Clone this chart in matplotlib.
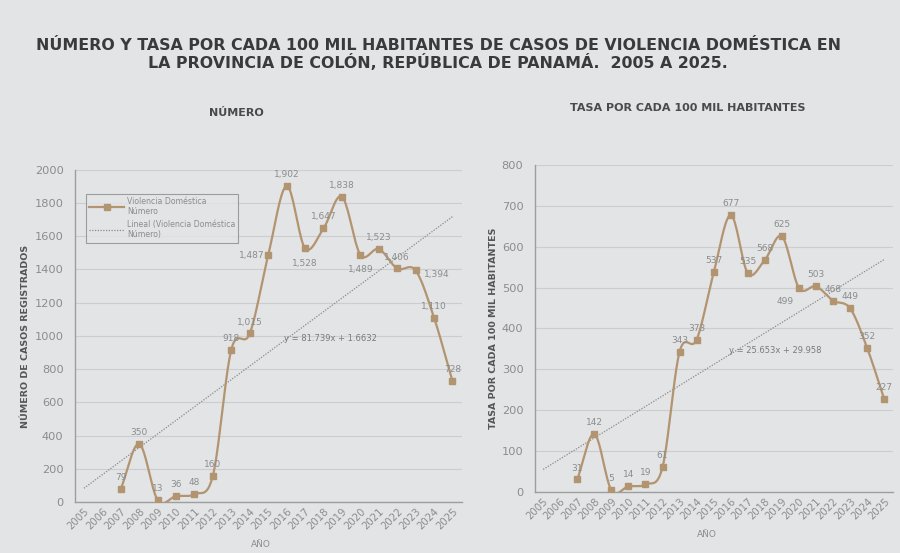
import numpy as np
import matplotlib.pyplot as plt

# data
years = list(range(2005, 2026))
data_years = list(range(2007, 2026))
numero = [79, 350, 13, 36, 48, 160, 918, 1015, 1487, 1902, 1528, 1647, 1838,
          1489, 1523, 1406, 1394, 1110, 728]
tasa = [31, 142, 5, 14, 19, 61, 343, 373, 537, 677, 535, 568, 625,
        499, 503, 468, 449, 352, 227]
trend_num = (81.739, 1.6632)
trend_tasa = (25.653, 29.958)

# label offsets (points) - default is just above the marker
off_num = {2015: (-12, 0), 2017: (0, -11), 2020: (0, -11), 2023: (15, -3)}
off_tasa = {2020: (-10, -10)}

BG = '#e2e4e6'
LINE = '#b39470'
GREY = '#8c8c8c'
DARK = '#3a3a3a'


def smooth(x, y, n=20):
    # catmull-rom, close to excel "smoothed line"
    x = np.asarray(x, float)
    y = np.asarray(y, float)
    px = np.concatenate([[2 * x[0] - x[1]], x, [2 * x[-1] - x[-2]]])
    py = np.concatenate([[2 * y[0] - y[1]], y, [2 * y[-1] - y[-2]]])
    xs, ys = [], []
    t = np.linspace(0, 1, n, endpoint=False)
    for i in range(1, len(px) - 2):
        for p, out in ((px, xs), (py, ys)):
            p0, p1, p2, p3 = p[i - 1], p[i], p[i + 1], p[i + 2]
            out.extend(0.5 * (2 * p1 + (-p0 + p2) * t +
                              (2 * p0 - 5 * p1 + 4 * p2 - p3) * t ** 2 +
                              (-p0 + 3 * p1 - 3 * p2 + p3) * t ** 3))
    xs.append(x[-1])
    ys.append(y[-1])
    return np.array(xs), np.array(ys)


def fmt(v):
    return '{:,}'.format(v)


def draw(ax, vals, trend, offs, ymax, ystep, eq_pos, ylabel):
    ax.set_facecolor(BG)
    sx, sy = smooth(data_years, vals)
    ax.plot(sx, sy, color=LINE, lw=1.6, zorder=3,
            label='Violencia Doméstica\nNúmero')
    ax.plot(data_years, vals, ls='none', marker='s', ms=4, color=LINE, zorder=4)
    k = np.arange(1, len(years) + 1)
    ax.plot(years, trend[0] * k + trend[1], ls=(0, (1, 1.2)), lw=0.9,
            color='#8a8a8a', zorder=2,
            label='Lineal (Violencia Doméstica\nNúmero)')
    for yr, v in zip(data_years, vals):
        dx, dy = offs.get(yr, (0, 5))
        ax.annotate(fmt(v), (yr, v), xytext=(dx, dy), textcoords='offset points',
                    ha='center', va='center' if dy < 5 else 'bottom',
                    fontsize=6.5, color=GREY, zorder=5)
    ax.text(eq_pos[0], eq_pos[1], 'y = {:.3f}x + {}'.format(trend[0], trend[1]),
            fontsize=6, color='#7a7a7a', ha='center', va='center')
    ax.set_xlim(2004.5, 2025.5)
    ax.set_ylim(0, ymax)
    ax.set_yticks(np.arange(0, ymax + 1, ystep))
    ax.set_xticks(years)
    ax.set_xticklabels([str(y) for y in years], rotation=45, ha='right',
                       rotation_mode='anchor', fontsize=7.3, color=GREY)
    ax.tick_params(axis='y', labelsize=8.2, labelcolor=GREY, length=0, pad=8)
    ax.tick_params(axis='x', length=0, pad=3)
    ax.grid(axis='y', color='#cbcdcf', lw=0.8)
    ax.set_axisbelow(True)
    for s in ('top', 'right'):
        ax.spines[s].set_visible(False)
    for s in ('left', 'bottom'):
        ax.spines[s].set_color('#9e9e9e')
        ax.spines[s].set_linewidth(1.0)
    ax.set_ylabel(ylabel, fontsize=6.8, fontweight='bold', color='#555555',
                  labelpad=3)
    ax.set_xlabel('AÑO', fontsize=6.5, color=GREY, labelpad=2)
    ax.xaxis.set_label_coords(0.48, -0.115)


fig = plt.figure(figsize=(9, 5.53), dpi=100, facecolor=BG)

fig.text(0.487, 0.918, 'NÚMERO Y TASA POR CADA 100 MIL HABITANTES DE CASOS DE VIOLENCIA DOMÉSTICA EN',
         ha='center', va='center', fontsize=11.4, fontweight='bold', color=DARK)
fig.text(0.487, 0.887, 'LA PROVINCIA DE COLÓN, REPÚBLICA DE PANAMÁ.  2005 A 2025.',
         ha='center', va='center', fontsize=11.4, fontweight='bold', color=DARK)
fig.text(0.263, 0.795, 'NÚMERO', ha='center', va='center', fontsize=8,
         fontweight='bold', color='#4a4a4a')
fig.text(0.764, 0.804, 'TASA POR CADA 100 MIL HABITANTES', ha='center',
         va='center', fontsize=8, fontweight='bold', color='#4a4a4a')

ax1 = fig.add_axes([0.083, 0.092, 0.43, 0.601])
draw(ax1, numero, trend_num, off_num, 2000, 200, (2018.4, 985),
     'NÚMERO DE CASOS REGISTRADOS')
leg = ax1.legend(loc='upper left', bbox_to_anchor=(0.02, 0.94), fontsize=5.6,
                 frameon=True, fancybox=False, borderpad=0.4, handlelength=4.5,
                 labelspacing=0.5, handletextpad=0.3)
leg.get_frame().set_edgecolor('#8a8a8a')
leg.get_frame().set_facecolor(BG)
leg.get_frame().set_linewidth(0.8)
for t in leg.get_texts():
    t.set_color(GREY)
leg.legend_handles[0].set_marker('s')
leg.legend_handles[0].set_markersize(4)

ax2 = fig.add_axes([0.594, 0.110, 0.398, 0.592])
draw(ax2, tasa, trend_tasa, off_tasa, 800, 100, (2018.6, 347),
     'TASA POR CADA 100 MIL HABITANTES')

fig.savefig('out.png', dpi=100, facecolor=BG)
